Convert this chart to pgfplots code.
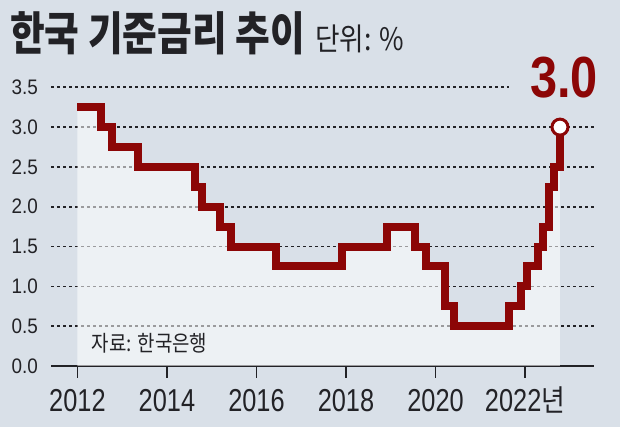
\documentclass[border=0pt]{standalone}
\usepackage{fontspec}
\usepackage{pgfplots}
\pgfplotsset{compat=1.18}
\setmainfont{Liberation Sans}
\newfontfamily\numfont{Liberation Sans}[FakeStretch=0.8]
\newfontfamily\ynumfont{Liberation Sans}[FakeStretch=0.9]
\newfontfamily\bignum{Liberation Sans}[FakeStretch=0.84]
\newfontfamily\kr{Noto Sans CJK KR}[FakeStretch=0.86]
\newfontfamily\krt{Noto Sans CJK KR}[FakeStretch=0.82]
\definecolor{bg}{RGB}{217,224,232}
\definecolor{rate}{RGB}{140,6,6}
\definecolor{txt}{RGB}{34,34,38}
\pgfplotstableread{
x y
2012.00 3.25
2012.53 3.00
2012.78 2.75
2013.35 2.50
2014.62 2.25
2014.79 2.00
2015.19 1.75
2015.44 1.50
2016.44 1.25
2017.91 1.50
2018.91 1.75
2019.54 1.50
2019.79 1.25
2020.21 0.75
2020.41 0.50
2021.65 0.75
2021.90 1.00
2022.04 1.25
2022.28 1.50
2022.40 1.75
2022.53 2.25
2022.65 2.50
2022.78 3.00
}\ratetable
\begin{document}
\begin{tikzpicture}[x=1pt,y=1pt]
\path[use as bounding box, fill=bg] (0,0) rectangle (620,427);
\begin{axis}[
  at={(51pt,61pt)}, anchor=south west,
  width=543pt, height=278.7pt, scale only axis,
  xmin=2011.41, xmax=2023.54, ymin=0, ymax=3.5,
  clip=false,
  axis x line*=bottom, axis y line*=left,
  y axis line style={draw=none},
  x axis line style={line width=1.6pt, color=txt},
  xtick={2012,2014,2016,2018,2020,2022},
  xticklabels={2012,2014,2016,2018,2020,{2022{\kr\fontsize{30}{30}\selectfont 년}}},
  xtick style={line width=1.6pt, color=txt},
  tick align=outside,
  major tick length=12pt,
  ytick={0,0.5,1,1.5,2,2.5,3,3.5},
  yticklabels={0.0,0.5,1.0,1.5,2.0,2.5,3.0,3.5},
  ytick style={draw=none},
  /pgf/number format/assume math mode=true,
  xticklabel style={font=\numfont\fontsize{31.7}{32}\selectfont, text=txt, anchor=base, inner sep=0pt, yshift=-34pt},
  yticklabel style={font=\ynumfont\fontsize{21}{21}\selectfont, text=txt, anchor=east, inner sep=0pt, xshift=-1pt},
  ymajorgrids,
  grid style={dash pattern=on 2.5pt off 3.5pt, line width=1.6pt, color=txt},
]
\addplot[const plot, draw=none, fill=white, fill opacity=0.55] table[x=x,y=y]{\ratetable} \closedcycle;
\addplot[const plot, line width=8pt, color=rate, line join=miter, line cap=butt] table[x=x,y=y]{\ratetable};
\addplot[only marks, mark=*, mark size=8pt, mark options={fill=white, draw=rate, line width=3pt}] coordinates {(2022.78,3.0)};
\node[font=\bignum\bfseries\fontsize{58}{58}\selectfont, text=rate, fill=bg, inner xsep=21pt, inner ysep=2pt] at (axis cs:2022.87,3.617) {3.0};
\node[anchor=west, inner sep=0pt, font=\kr\fontsize{22}{22}\selectfont, text=txt] at (axis cs:2012.32,0.29) {자료: 한국은행};
\end{axis}
\node[anchor=base west, inner sep=0pt, text=txt] at (10,376) {{\krt\bfseries\fontsize{46}{46}\selectfont 한국 기준금리 추이}\hspace{10pt}{\kr\fontsize{31}{31}\selectfont 단위: \%}};
\end{tikzpicture}
\end{document}
